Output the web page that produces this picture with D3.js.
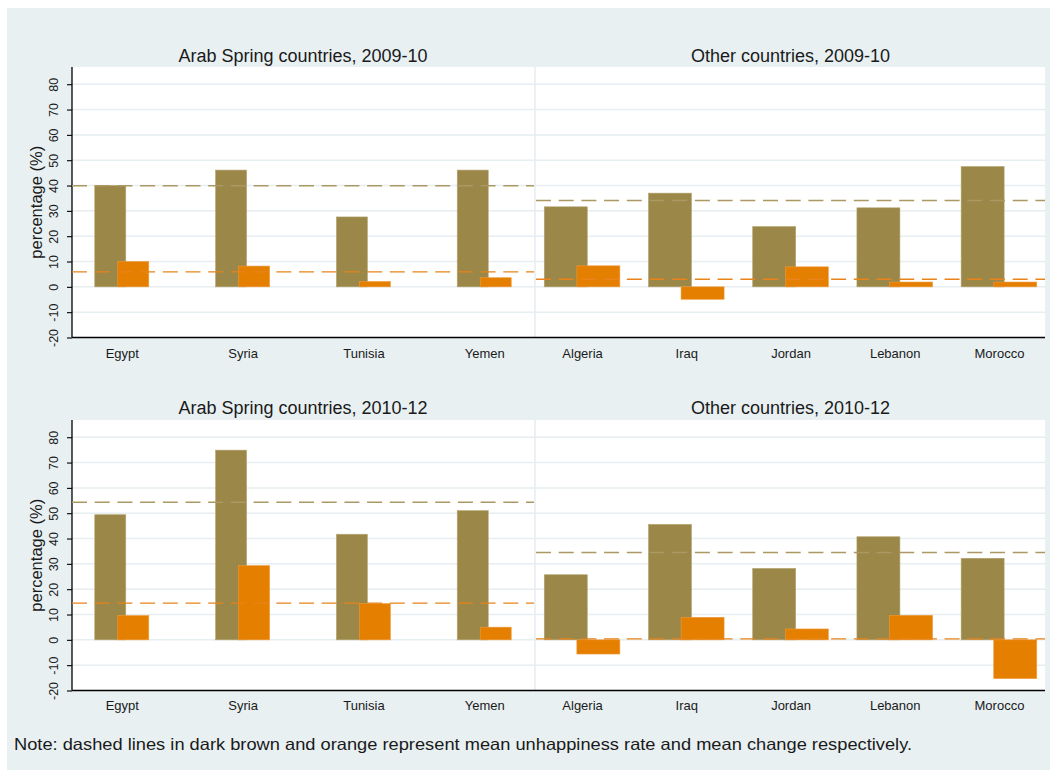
<!DOCTYPE html>
<html>
<head>
<meta charset="utf-8">
<script src="https://cdn.jsdelivr.net/npm/d3@7"></script>
<style>
  html, body { margin: 0; padding: 0; background: #ffffff; }
  svg { display: block; font-family: "Liberation Sans", Arial, Helvetica, sans-serif; }
</style>
</head>
<body>
<svg id="chart" width="1052" height="773"></svg>
<script>
// ---------------- DATA ----------------
const panelTitles = [
  "Arab Spring countries, 2009-10",
  "Other countries, 2009-10",
  "Arab Spring countries, 2010-12",
  "Other countries, 2010-12"
];
const arabCountries = ["Egypt", "Syria", "Tunisia", "Yemen"];
const otherCountries = ["Algeria", "Iraq", "Jordan", "Lebanon", "Morocco"];

const arab0910Rate   = [40.0, 46.1, 27.6, 46.1];
const arab0910Change = [10.0, 8.2, 2.1, 3.6];
const other0910Rate   = [31.6, 37.0, 23.8, 31.2, 47.5];
const other0910Change = [8.3, -4.9, 7.9, 1.9, 1.9];

const arab1012Rate   = [49.4, 74.9, 41.7, 51.0];
const arab1012Change = [9.6, 29.3, 14.3, 5.0];
const other1012Rate   = [25.7, 45.6, 28.2, 40.7, 32.2];
const other1012Change = [-5.6, 8.9, 4.3, 9.7, -15.3];

// mean lines (dark brown = mean unhappiness rate, orange = mean change)
const meanRate   = [39.9, 34.1, 54.3, 34.5];
const meanChange = [5.9, 3.0, 14.5, 0.4];

const yTicks = [-20, -10, 0, 10, 20, 30, 40, 50, 60, 70, 80];
const yTitle = "percentage (%)";
const note = "Note: dashed lines in dark brown and orange represent mean unhappiness rate and mean change respectively.";

// ---------------- STYLE / LAYOUT ----------------
const C = {
  bg: "#e8f0f2",
  grid: "#e6eef1",
  brown: "#9b8747",
  brownEdge: "#b4a470",
  orange: "#e57f00",
  orangeEdge: "#ef9a3c",
  brownDash: "#ab9862",
  orangeDash: "#e8841a",
  text: "#1a1a1a"
};

const rows = [
  { top: 67,  bottom: 337.5, titleY: 61.5,  labelY: 357.5 },
  { top: 420, bottom: 690.5, titleY: 413.5, labelY: 709.5 }
];
const cols = [
  { left: 72,  right: 534,  padding: 0.412, barW: 31, half: 27 },
  { left: 536, right: 1045, padding: 0.442, barW: 43, half: 37.8 }
];
const yDomain = [-20, 86.8];

const panels = [
  { row: 0, col: 0, cats: arabCountries,  rate: arab0910Rate,  change: arab0910Change },
  { row: 0, col: 1, cats: otherCountries, rate: other0910Rate, change: other0910Change },
  { row: 1, col: 0, cats: arabCountries,  rate: arab1012Rate,  change: arab1012Change },
  { row: 1, col: 1, cats: otherCountries, rate: other1012Rate, change: other1012Change }
];

const svg = d3.select("#chart");

// outer background
svg.append("rect").attr("x", 7).attr("y", 8).attr("width", 1043).attr("height", 762).attr("fill", C.bg);

rows.forEach((r, ri) => {
  const y = d3.scaleLinear().domain(yDomain).range([r.bottom, r.top]);
  const L = cols[0].left, R = cols[1].right;

  // plot region white
  svg.append("rect").attr("x", L).attr("y", r.top).attr("width", R - L).attr("height", r.bottom - r.top).attr("fill", "#ffffff");

  // gridlines
  svg.append("g").selectAll("line").data(yTicks.filter(t => t > -20)).join("line")
    .attr("x1", L).attr("x2", R)
    .attr("y1", d => y(d)).attr("y2", d => y(d))
    .attr("stroke", C.grid).attr("stroke-width", 1.5);

  // panel separator
  svg.append("line").attr("x1", 535).attr("x2", 535).attr("y1", r.top).attr("y2", r.bottom)
    .attr("stroke", C.grid).attr("stroke-width", 1.6);

  // y axis
  const yAxis = d3.axisLeft(y).tickValues(yTicks).tickSize(5).tickFormat(d => String(d));
  const gy = svg.append("g").attr("transform", `translate(${L},0)`).call(yAxis);
  gy.select(".domain").attr("stroke", "#000").attr("stroke-width", 1.3).attr("d", `M0,${r.top}V${r.bottom}`);
  gy.selectAll(".tick line").attr("stroke", "#000").attr("stroke-width", 1.1);
  gy.selectAll(".tick text")
    .attr("x", null).attr("dy", null)
    .attr("transform", "translate(-14,0) rotate(-90)")
    .attr("text-anchor", "middle")
    .attr("y", 0)
    .attr("font-size", 12.5)
    .attr("fill", C.text)
    .attr("font-family", "Liberation Sans, Arial, sans-serif");

  // y title
  svg.append("text")
    .attr("transform", `translate(42,${(r.top + r.bottom) / 2}) rotate(-90)`)
    .attr("text-anchor", "middle")
    .attr("font-size", 16.5)
    .attr("fill", C.text)
    .text(yTitle);
});

panels.forEach((p, pi) => {
  const r = rows[p.row], c = cols[p.col];
  const y = d3.scaleLinear().domain(yDomain).range([r.bottom, r.top]);
  const x = d3.scalePoint().domain(p.cats).range([c.left, c.right]).padding(c.padding);
  const g = svg.append("g");

  // brown bars (unhappiness rate)
  g.selectAll("rect.rate").data(p.cats).join("rect").attr("class", "rate")
    .attr("x", (d) => x(d) - c.half)
    .attr("width", c.barW)
    .attr("y", (d, i) => y(Math.max(0, p.rate[i])))
    .attr("height", (d, i) => Math.abs(y(p.rate[i]) - y(0)))
    .attr("fill", C.brown).attr("stroke", C.brownEdge).attr("stroke-width", 0.6);

  // orange bars (change)
  g.selectAll("rect.chg").data(p.cats).join("rect").attr("class", "chg")
    .attr("x", (d) => x(d) + c.half - c.barW)
    .attr("width", c.barW)
    .attr("y", (d, i) => y(Math.max(0, p.change[i])))
    .attr("height", (d, i) => Math.abs(y(p.change[i]) - y(0)))
    .attr("fill", C.orange).attr("stroke", C.orangeEdge).attr("stroke-width", 0.6);

  // mean lines
  g.append("line").attr("x1", c.left).attr("x2", c.right)
    .attr("y1", y(meanRate[pi])).attr("y2", y(meanRate[pi]))
    .attr("stroke", C.brownDash).attr("stroke-width", 1.4).attr("stroke-dasharray", "15,7.7");
  g.append("line").attr("x1", c.left).attr("x2", c.right)
    .attr("y1", y(meanChange[pi])).attr("y2", y(meanChange[pi]))
    .attr("stroke", C.orangeDash).attr("stroke-width", 1.4).attr("stroke-dasharray", "15,7.7");

  // x axis (categories)
  const xAxis = d3.axisBottom(x).tickSize(0);
  const gx = svg.append("g").attr("transform", `translate(0,${r.bottom})`).call(xAxis);
  gx.select(".domain").attr("stroke", "#000").attr("stroke-width", 1.3).attr("d", `M${c.left - (p.col === 1 ? 2 : 0)},0H${c.right}`);
  gx.selectAll(".tick text")
    .attr("y", r.labelY - r.bottom).attr("dy", null)
    .attr("font-size", 13).attr("fill", C.text)
    .attr("font-family", "Liberation Sans, Arial, sans-serif");

  // panel title
  svg.append("text")
    .attr("x", (c.left + c.right) / 2).attr("y", r.titleY)
    .attr("text-anchor", "middle").attr("font-size", 18).attr("fill", C.text)
    .text(panelTitles[pi]);
});

// note
svg.append("text")
  .attr("x", 14).attr("y", 750)
  .attr("font-size", 16.5).attr("fill", C.text)
  .attr("textLength", 898).attr("lengthAdjust", "spacingAndGlyphs")
  .text(note);
</script>
</body>
</html>
